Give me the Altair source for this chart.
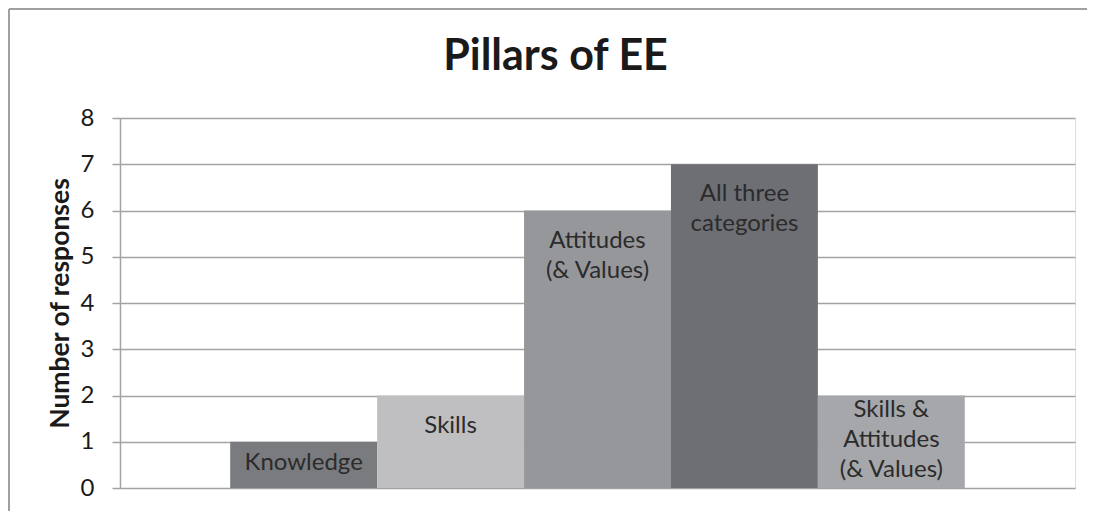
import altair as alt
import pandas as pd

# ---- data ----
categories = ["Knowledge", "Skills", "Attitudes (& Values)", "All three categories",
              "Skills & Attitudes (& Values)"]
label_lines = [["Knowledge"], ["Skills"], ["Attitudes", "(& Values)"],
               ["All three", "categories"], ["Skills &", "Attitudes", "(& Values)"]]
values = [1, 2, 6, 7, 2]
colors = ["#7a7b7f", "#bfbfc1", "#96979b", "#6e6f74", "#a6a7aa"]
y_ticks = [0, 1, 2, 3, 4, 5, 6, 7, 8]

W, H = 955, 370
FONT = "Lato"
FS = 24
LH = 30

px_per_unit = H / max(y_ticks)
rows = []
for c, lines, v in zip(categories, label_lines, values):
    n = len(lines)
    fits = v * px_per_unit >= 26 + n * LH
    # centred block: shift first line up by half the extra lines (via data units)
    mid = v / 2 + (n - 1) * LH / 2 / px_per_unit
    rows.append({"cat": c, "value": v, "label": lines, "fits": fits, "mid": mid})
df = pd.DataFrame(rows)

x_enc = alt.X("cat:N", sort=categories, axis=None,
              scale=alt.Scale(paddingInner=0, paddingOuter=0.75))
y_scale = alt.Scale(domain=[0, 8])

base = alt.Chart(df)

bars = base.mark_bar(opacity=1).encode(
    x=x_enc,
    y=alt.Y("value:Q", scale=y_scale,
            axis=alt.Axis(values=y_ticks, title="Number of responses",
                          titleFont=FONT, titleFontSize=26.5, titleFontWeight="bold",
                          titleColor="#1a1a1a", titleAngle=-90,
                          titleX=-60, titleY=H / 2, titleBaseline="middle",
                          titleAlign="center",
                          labelFont=FONT, labelFontSize=24, labelColor="#1a1a1a",
                          labelPadding=18, tickSize=8, tickColor="#a3a3a6",
                          tickWidth=1.5, domainColor="#a3a3a6", domainWidth=1.5,
                          gridColor="#a3a3a6", gridWidth=1.5, grid=True)),
    color=alt.Color("cat:N", sort=categories,
                    scale=alt.Scale(domain=categories, range=colors), legend=None),
)

top_labels = base.transform_filter("datum.fits").mark_text(
    font=FONT, fontSize=FS, color="#2b2b2b", baseline="alphabetic",
    align="center", dy=37, lineHeight=LH
).encode(x=x_enc, y=alt.Y("value:Q", scale=y_scale), text="label")

mid_labels = base.transform_filter("!datum.fits").mark_text(
    font=FONT, fontSize=FS, color="#2b2b2b", baseline="middle",
    align="center", dy=-2, lineHeight=LH
).encode(x=x_enc, y=alt.Y("mid:Q", scale=y_scale), text="label")

frame_data = alt.Data(values=[{}])
top_border = alt.Chart(frame_data).mark_rule(color="#a0a0a0", strokeWidth=2).encode(
    x=alt.value(-111), x2=alt.value(W + 12), y=alt.value(-109))
left_border = alt.Chart(frame_data).mark_rule(color="#a0a0a0", strokeWidth=2).encode(
    x=alt.value(-111), y=alt.value(-109), y2=alt.value(H + 23))

chart = alt.layer(bars, top_labels, mid_labels, top_border, left_border).properties(
    width=W, height=H,
    autosize=alt.AutoSizeParams(type="none"),
    padding={"left": 112, "top": 110, "right": 12, "bottom": 23},
    title=alt.TitleParams("Pillars of EE", font=FONT, fontSize=43, fontWeight="bold",
                          color="#1a1a1a", anchor="middle", dx=-42,
                          baseline="alphabetic", offset=-105),
).configure_view(stroke=None).configure(background="white")

chart.save("out.html", embed_options={"renderer": "svg", "actions": False})
